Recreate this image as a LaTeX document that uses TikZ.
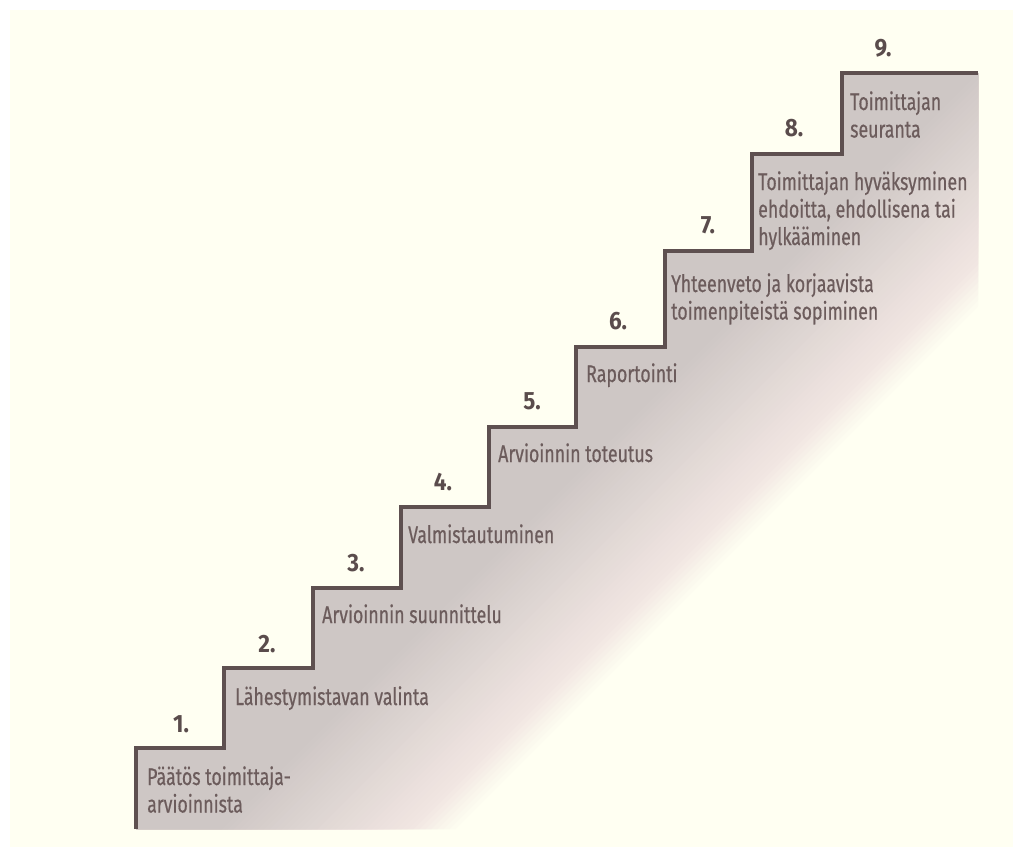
\documentclass[tikz,border=0pt]{standalone}
\usepackage{fontspec}
\setmainfont{Fira Sans}[FakeStretch=0.74, FakeBold=0.5]
\newfontfamily\numfont{Fira Sans}[FakeStretch=0.9]
\definecolor{paper}{HTML}{FFFFF2}
\definecolor{stairgray}{HTML}{CEC7C5}
\definecolor{stairpink}{HTML}{F1E6E2}
\definecolor{lineclr}{HTML}{5E5050}
\definecolor{labelclr}{HTML}{6C5C5C}
\definecolor{numclr}{HTML}{5A4C4C}
\begin{document}
\begin{tikzpicture}[x=1pt,y=-1pt,
  stairline/.style={draw=lineclr, line width=3.8pt, line join=miter},
  steplabel/.style={anchor=base west, inner sep=0pt, text=labelclr,
    font=\fontsize{24}{27.5}\selectfont},
  stepnum/.style={anchor=base, inner sep=0pt, text=numclr,
    font=\numfont\fontsize{25}{28}\selectfont\bfseries}]
\useasboundingbox (0,0) rectangle (1013,847);
\fill[white] (0,0) rectangle (1013,847);
\fill[paper] (10,10) rectangle (1013,847);

% corners of the staircase outline
\coordinate (s0) at (136,829);
\coordinate (s1) at (136,748);
\coordinate (s2) at (224,748);
\coordinate (s3) at (224,668);
\coordinate (s4) at (313,668);
\coordinate (s5) at (313,588);
\coordinate (s6) at (401,588);
\coordinate (s7) at (401,507);
\coordinate (s8) at (489,507);
\coordinate (s9) at (489,427);
\coordinate (s10) at (576,427);
\coordinate (s11) at (576,347);
\coordinate (s12) at (665,347);
\coordinate (s13) at (665,251);
\coordinate (s14) at (752,251);
\coordinate (s15) at (752,154);
\coordinate (s16) at (842,154);
\coordinate (s17) at (842,73);
\coordinate (s18) at (978,73);
\coordinate (s19) at (978,829);

% gray body of the stairs, fading out along the diagonal
\begin{scope}
  \clip (s0) -- (s1) -- (s2) -- (s3) -- (s4) -- (s5) -- (s6) -- (s7) -- (s8)
    -- (s9) -- (s10) -- (s11) -- (s12) -- (s13) -- (s14) -- (s15) -- (s16)
    -- (s17) -- (s18) -- (s19) -- cycle;
  \foreach \i in {0,...,40} {
    \pgfmathtruncatemacro\c{1290-\i*6}
    \pgfmathtruncatemacro\b{min(100,\i*12.5)}
    \pgfmathtruncatemacro\a{max(0,(\i-8)*100/32)}
    \fill[stairgray!\a!stairpink!\b!paper] (0,0) -- (\c,0) -- (0,\c) -- cycle;
  }
\end{scope}

\draw[stairline] (s0) -- (s1) -- (s2) -- (s3) -- (s4) -- (s5) -- (s6) -- (s7)
  -- (s8) -- (s9) -- (s10) -- (s11) -- (s12) -- (s13) -- (s14) -- (s15)
  -- (s16) -- (s17) -- (s18);

% step numbers
\node[stepnum] (n1) at (181,732) {1.};
\node[stepnum] (n2) at (267,652) {2.};
\node[stepnum] (n3) at (356,571) {3.};
\node[stepnum] (n4) at (443,490) {4.};
\node[stepnum] (n5) at (532,409) {5.};
\node[stepnum] (n6) at (618,329) {6.};
\node[stepnum] (n7) at (708,233) {7.};
\node[stepnum] (n8) at (794,136) {8.};
\node[stepnum] (n9) at (883,56) {9.};

% step texts
\node[steplabel] (t1) at (147,785) {\begin{tabular}[t]{@{}l@{}}Päätös toimittaja-\\arvioinnista\end{tabular}};
\node[steplabel] (t2) at (235,705) {Lähestymistavan valinta};
\node[steplabel] (t3) at (322,623) {Arvioinnin suunnittelu};
\node[steplabel] (t4) at (408,543) {Valmistautuminen};
\node[steplabel] (t5) at (498,462) {Arvioinnin toteutus};
\node[steplabel] (t6) at (586,382) {Raportointi};
\node[steplabel] (t7) at (671,292) {\begin{tabular}[t]{@{}l@{}}Yhteenveto ja korjaavista\\toimenpiteistä sopiminen\end{tabular}};
\node[steplabel] (t8) at (758,190) {\begin{tabular}[t]{@{}l@{}}Toimittajan hyväksyminen\\ehdoitta, ehdollisena tai\\hylkääminen\end{tabular}};
\node[steplabel] (t9) at (850,110) {\begin{tabular}[t]{@{}l@{}}Toimittajan\\seuranta\end{tabular}};
\end{tikzpicture}
\end{document}
